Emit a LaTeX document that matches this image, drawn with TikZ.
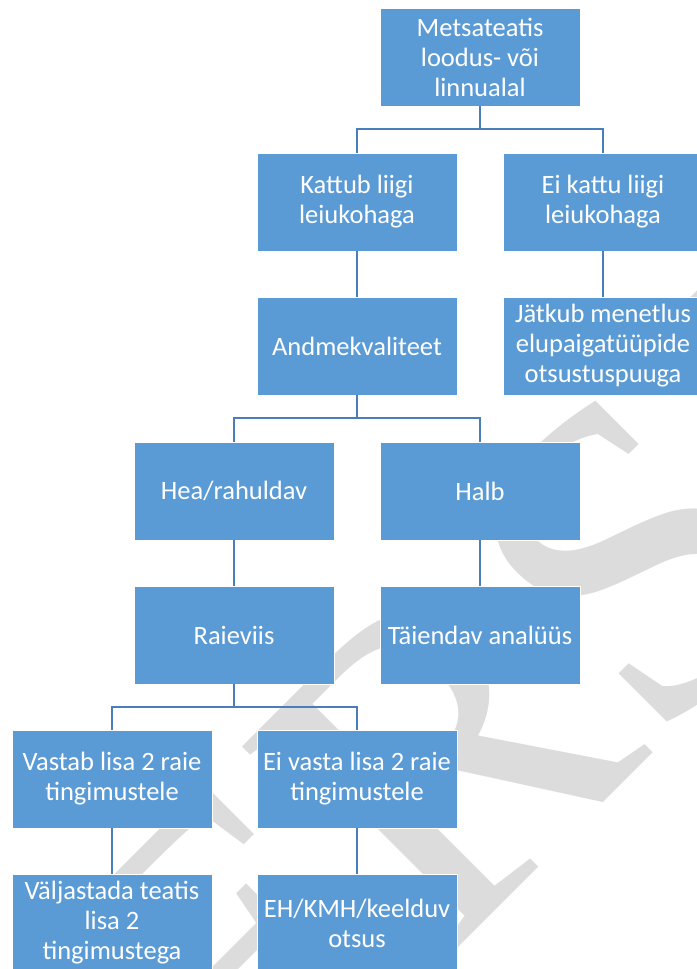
\documentclass[tikz,border=0pt]{standalone}
\usepackage{fontspec}
\setmainfont{Carlito}
\newfontfamily\wmfont{Liberation Serif}
\usepackage{tikz}

\definecolor{boxblue}{HTML}{5B9BD5}
\definecolor{lineblue}{HTML}{4A7EBB}
\definecolor{wmgray}{HTML}{DCDCDC}

\begin{document}
\begin{tikzpicture}
[x=1pt,y=-1pt,
 box/.style={fill=boxblue,draw=white,line width=.8pt,text=white,minimum width=200pt,minimum height=98pt,
   inner sep=0pt,outer sep=0pt,align=center,font=\fontsize{26.5}{30}\selectfont},
 conn/.style={draw=lineblue,line width=2.8pt}]
\useasboundingbox (0,0) rectangle (696,969);

% watermark
\node[rotate=45,text=wmgray,font=\wmfont\fontsize{450}{450}\selectfont] (wm) at (719,481) {VERSIOON};

\node[box] (v1) at (480,57) {Metsateatis\\loodus- või\\linnualal};
\node[box] (v2) at (357,202) {Kattub liigi\\leiukohaga};
\node[box] (v3) at (603,202) {Ei kattu liigi\\leiukohaga};
\node[box] (v4) at (357,346) {Andmekvaliteet};
\node[box] (v5) at (603,346) {Jätkub menetlus\\elupaigatüüpide\\otsustuspuuga};

\node[box] (v6) at (234,491) {Hea/rahuldav};
\node[box] (v7) at (480,491) {Halb};
\node[box] (v8) at (234,635) {Raieviis};
\node[box] (v9) at (480,635) {Täiendav analüüs};

\node[box] (v10) at (112,779) {Vastab lisa 2 raie\\tingimustele};
\node[box] (v11) at (357,779) {Ei vasta lisa 2 raie\\tingimustele};
\node[box] (v12) at (112,923) {Väljastada teatis\\lisa 2\\tingimustega};
\node[box] (v13) at (357,923) {EH/KMH/keelduv\\otsus};

\foreach \from/\to in {v1/v2,v1/v3,v2/v4,v3/v5,v4/v6,v4/v7,v6/v8,v7/v9,v8/v10,v8/v11,v10/v12,v11/v13}
\draw[conn] (\from.south) -- ++(0,23) -| (\to.north);
\end{tikzpicture}
\end{document}
